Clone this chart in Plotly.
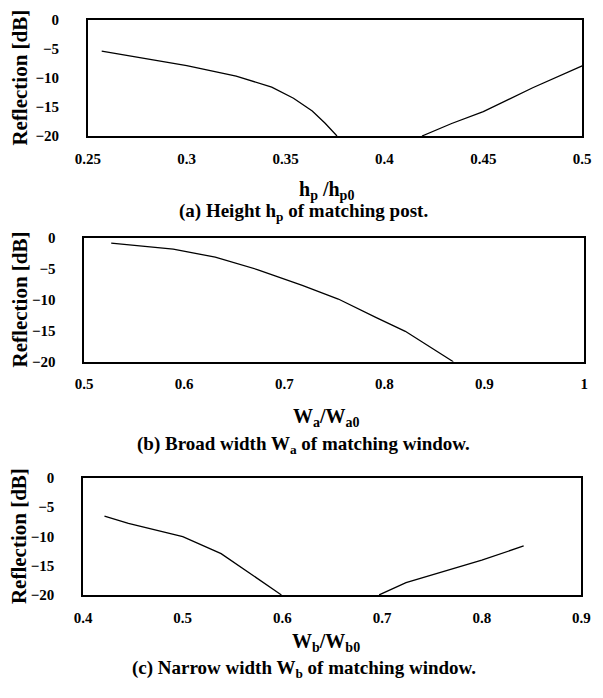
import plotly.graph_objects as go

# ---- data ----
hp_left = [0.257, 0.28, 0.30, 0.325, 0.343, 0.354, 0.3635, 0.370, 0.376]
refl_a_left = [-5.4, -6.7, -7.9, -9.7, -11.6, -13.5, -15.7, -17.8, -20.0]
hp_right = [0.419, 0.434, 0.45, 0.475, 0.5]
refl_a_right = [-20.0, -17.85, -15.8, -11.7, -7.95]

wa = [0.527, 0.589, 0.631, 0.673, 0.718, 0.754, 0.792, 0.821, 0.869]
refl_b = [-0.9, -1.85, -3.15, -5.15, -7.7, -9.9, -12.9, -15.1, -20.0]

wb_left = [0.4215, 0.4455, 0.5, 0.5385, 0.599]
refl_c_left = [-6.55, -7.8, -10.05, -12.95, -20.0]
wb_right = [0.697, 0.724, 0.8, 0.842]
refl_c_right = [-20.0, -17.9, -14.05, -11.65]

y_ticks = [-20, -15, -10, -5, 0]
xt_a = [0.25, 0.3, 0.35, 0.4, 0.45, 0.5]
xt_b = [0.5, 0.6, 0.7, 0.8, 0.9, 1.0]
xt_c = [0.4, 0.5, 0.6, 0.7, 0.8, 0.9]

x_titles = ["h<sub>p</sub> /h<sub>p0</sub>", "W<sub>a</sub>/W<sub>a0</sub>", "W<sub>b</sub>/W<sub>b0</sub>"]
captions = ["(a) Height h<sub>p</sub> of matching post.",
            "(b) Broad width W<sub>a</sub> of matching window.",
            "(c) Narrow width W<sub>b</sub> of matching window."]
y_title = "Reflection [dB]"

W, H = 603, 698
FONT = "Liberation Serif, Times New Roman, Times, serif"

def px_x(p):
    return p / W

def px_y(p):
    return 1 - p / H

# panel pixel boxes: (left, right, top, bottom)
boxes = [(77.7, 590.7, 12.0, 131.0), (73.9, 593.0, 235.0, 362.0), (72.7, 590.0, 480.7, 600.7)]
xranges = [[0.25, 0.5], [0.5, 1.0], [0.4, 0.9]]
xticks = [xt_a, xt_b, xt_c]
title_y = [187, 419, 649]
cap_y = [209, 447, 676]

fig = go.Figure()
line = dict(color="black", width=1.3)
fig.add_trace(go.Scatter(x=hp_left, y=refl_a_left, mode="lines", line=line, xaxis="x", yaxis="y"))
fig.add_trace(go.Scatter(x=hp_right, y=refl_a_right, mode="lines", line=line, xaxis="x", yaxis="y"))
fig.add_trace(go.Scatter(x=wa, y=refl_b, mode="lines", line=line, xaxis="x2", yaxis="y2"))
fig.add_trace(go.Scatter(x=wb_left, y=refl_c_left, mode="lines", line=line, xaxis="x3", yaxis="y3"))
fig.add_trace(go.Scatter(x=wb_right, y=refl_c_right, mode="lines", line=line, xaxis="x3", yaxis="y3"))

tickfont = dict(family=FONT, size=15, color="black", weight="bold")
layout = dict(
    width=W, height=H, margin=dict(l=0, r=0, t=0, b=0),
    paper_bgcolor="white", plot_bgcolor="white", showlegend=False,
)
annotations = []
clear = "rgba(0,0,0,0)"
for i, (l, r, t, b) in enumerate(boxes):
    sfx = "" if i == 0 else str(i + 1)
    osfx = str(i + 4)
    # main axes: carry the tick labels (spacing via transparent outside ticks)
    layout["xaxis" + sfx] = dict(
        domain=[px_x(l), px_x(r)], range=xranges[i], tickvals=xticks[i],
        anchor="y" + sfx, showline=True, mirror=True, linecolor="black", linewidth=1.5,
        ticks="outside", ticklen=8, tickcolor=clear,
        showgrid=False, zeroline=False, tickfont=tickfont,
    )
    layout["yaxis" + sfx] = dict(
        domain=[px_y(b), px_y(t)], range=[-20, 0], tickvals=y_ticks,
        anchor="x" + sfx, showline=True, mirror=True, linecolor="black", linewidth=1.5,
        ticks="outside", ticklen=24, tickcolor=clear,
        showgrid=False, zeroline=False, tickfont=tickfont,
    )
    # overlay axes: draw the small inside tick marks
    layout["xaxis" + osfx] = dict(
        overlaying="x" + sfx, anchor="y" + sfx, side="bottom", range=xranges[i],
        tickvals=xticks[i], ticks="inside", ticklen=4, tickwidth=1, tickcolor="black",
        showticklabels=False, showline=False, showgrid=False, zeroline=False,
    )
    layout["yaxis" + osfx] = dict(
        overlaying="y" + sfx, anchor="x" + sfx, side="left", range=[-20, 0],
        tickvals=y_ticks, ticks="inside", ticklen=4, tickwidth=1, tickcolor="black",
        showticklabels=False, showline=False, showgrid=False, zeroline=False,
    )
    annotations.append(dict(
        text=y_title, textangle=-90, xref="paper", yref="paper",
        x=px_x(7), y=px_y((t + b) / 2), showarrow=False,
        font=dict(family=FONT, size=21, color="black", weight="bold"),
        xanchor="center", yanchor="middle"))
    annotations.append(dict(
        text=x_titles[i], xref="paper", yref="paper",
        x=px_x(325), y=px_y(title_y[i]), showarrow=False,
        font=dict(family=FONT, size=20, color="black", weight="bold"),
        xanchor="center", yanchor="middle"))
    annotations.append(dict(
        text=captions[i], xref="paper", yref="paper",
        x=px_x(302), y=px_y(cap_y[i]), showarrow=False,
        font=dict(family=FONT, size=19, color="black", weight="bold"),
        xanchor="center", yanchor="middle"))
layout["annotations"] = annotations
fig.update_layout(**layout)
fig.write_html("out.html")
